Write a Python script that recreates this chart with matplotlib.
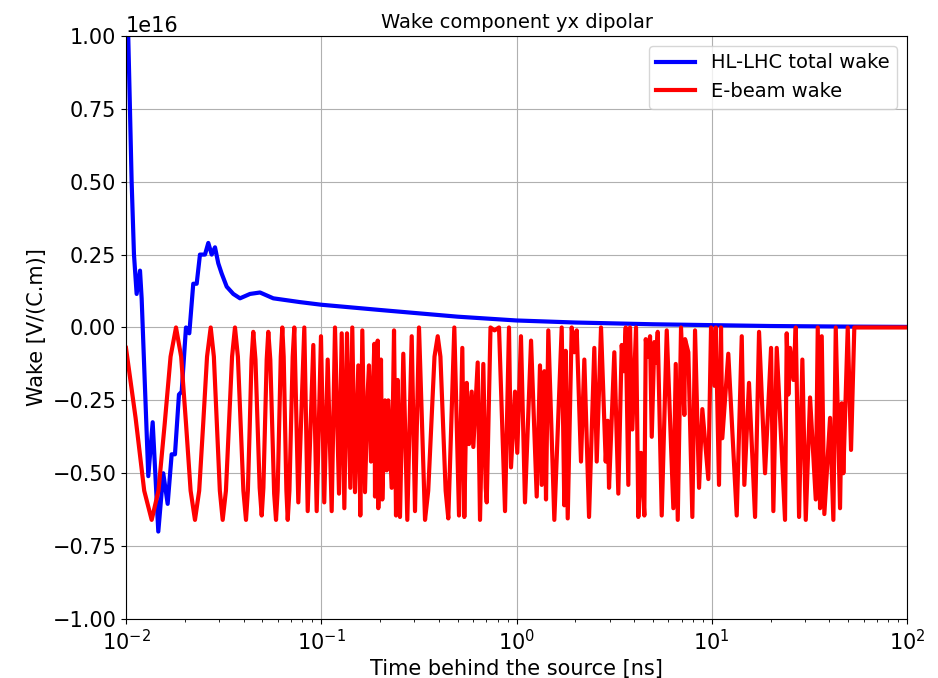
import numpy as np
import matplotlib.pyplot as plt

# HL-LHC total wake (time in ns, wake in 1e16 V/(C.m))
hl_time = [0.0100, 0.01027, 0.01048, 0.01069, 0.01099, 0.01134, 0.01180, 0.01203,
           0.01301, 0.01370, 0.01464, 0.01552, 0.01635, 0.01714, 0.01782, 0.01868,
           0.01929, 0.02029, 0.02110, 0.02211, 0.02302, 0.02393, 0.02539, 0.02640,
           0.02748, 0.02857, 0.02970, 0.03091, 0.03280, 0.03545, 0.03837, 0.04316,
           0.04857, 0.05680, 0.0778, 0.1, 0.2, 0.5, 1.0, 2.0, 5.0, 10.0, 20.0, 50.0, 100.0]
hl_wake = [1.30, 1.00, 0.75, 0.50, 0.25, 0.115, 0.195, 0.10,
           -0.51, -0.325, -0.70, -0.50, -0.605, -0.435, -0.435, -0.23,
           -0.22, 0.0, -0.02, 0.15, 0.15, 0.25, 0.25, 0.29,
           0.25, 0.275, 0.22, 0.185, 0.14, 0.115, 0.10, 0.115,
           0.12, 0.10, 0.087, 0.078, 0.060, 0.037, 0.024, 0.017, 0.011, 0.008, 0.005, 0.003, 0.002]

# E-beam wake (time in ns, wake in 1e16 V/(C.m))
# first part: smooth oscillation, read with a few points per half-cycle
eb_time_start = [0.0100, 0.0112, 0.0124, 0.01354, 0.01467, 0.01579, 0.01692, 0.01804,
                 0.01917, 0.02030, 0.02143, 0.02256, 0.02371, 0.02486, 0.02601, 0.02716,
                 0.02819, 0.02922, 0.03025, 0.03128, 0.03250, 0.03372, 0.03494, 0.03616,
                 0.03742, 0.03867, 0.03993, 0.04118, 0.04210, 0.04303, 0.04395, 0.04487,
                 0.04604, 0.04721, 0.04838, 0.04955, 0.05055, 0.05156, 0.05256, 0.05356,
                 0.05484, 0.05612, 0.05739, 0.05867, 0.05980, 0.06093, 0.06205, 0.06318,
                 0.06422, 0.06527, 0.06631, 0.06735, 0.06871, 0.07007, 0.07142, 0.07278]
eb_wake_start = [-0.07, -0.31, -0.56, -0.66, -0.56, -0.33, -0.10, 0.0,
                 -0.10, -0.33, -0.56, -0.66, -0.56, -0.33, -0.10, 0.0,
                 -0.10, -0.33, -0.56, -0.66, -0.56, -0.33, -0.10, 0.0,
                 -0.10, -0.33, -0.56, -0.66, -0.56, -0.34, -0.11, -0.015,
                 -0.11, -0.33, -0.55, -0.645, -0.55, -0.33, -0.11, -0.015,
                 -0.11, -0.34, -0.57, -0.66, -0.56, -0.33, -0.10, 0.0,
                 -0.10, -0.33, -0.56, -0.66, -0.56, -0.33, -0.10, 0.0]
# rest: sampled (aliased) oscillation up to ~54 ns, then zero
eb_time_rest = [0.0763,
           0.0819, 0.08524, 0.09107, 0.09478, 0.0997, 0.1036, 0.1079, 0.1131,
           0.1176, 0.1233, 0.1273, 0.1313, 0.1355, 0.1409, 0.1442, 0.1489,
           0.1548, 0.1585, 0.1623, 0.1675, 0.1730, 0.1756, 0.1798, 0.1870,
           0.1885, 0.1946, 0.1960, 0.2023, 0.2054, 0.2121, 0.2164, 0.2205,
           0.2295, 0.2359, 0.2415, 0.2464, 0.2531, 0.2632, 0.2759, 0.2906,
           0.3021, 0.3167, 0.3400, 0.3531, 0.3662, 0.3802, 0.3949, 0.4077,
           0.4204, 0.4336, 0.4474, 0.4803, 0.5076, 0.5278,
           0.5404, 0.5559, 0.5711, 0.5896, 0.6009, 0.6328, 0.6503, 0.6761,
           0.6956, 0.7038, 0.7359, 0.7715, 0.8136, 0.8733, 0.9152, 0.9371,
           0.9824, 1.009, 1.054, 1.105, 1.187, 1.269, 1.319, 1.346,
           1.388, 1.416, 1.455, 1.562, 1.704, 1.757, 1.786, 1.829,
           1.917, 1.977, 2.034, 2.139, 2.225, 2.352, 2.503, 2.575,
           2.709, 2.863, 2.932, 2.977, 3.169, 3.322, 3.458, 3.541,
           3.625, 3.738, 3.813, 3.918, 4.094, 4.206, 4.343, 4.515,
           4.590, 4.716, 4.829, 4.927, 5.079, 5.182, 5.287, 5.542,
           5.880, 6.356, 6.539, 6.694, 6.959, 7.236, 7.296, 7.585,
           7.952, 8.209, 8.606, 8.947, 9.601, 9.913, 10.31, 10.48,
           10.89, 11.15, 11.32, 12.15, 13.42, 14.24, 14.68, 15.51,
           16.66, 17.46, 18.74, 20.12, 20.67, 21.51, 23.72, 24.20,
           24.67, 25.17, 26.17, 26.92, 27.99, 29.10, 30.29, 31.86,
           34.08, 34.89, 35.85, 36.57, 37.71, 40.34, 41.94, 43.14,
           45.38, 46.30, 47.18, 49.69, 51.66, 53.70, 100.0]
eb_wake_rest = [-0.60,
           0.0, -0.63, -0.06, -0.63, -0.03, -0.60, -0.11, -0.63,
           0.0, -0.57, -0.02, -0.62, -0.02, -0.55, 0.0, -0.565,
           -0.13, -0.645, -0.01, -0.565, -0.22, -0.13, -0.46, -0.056,
           -0.58, -0.045, -0.62, -0.11, -0.59, -0.25, -0.49, -0.25,
           -0.55, -0.01, -0.645, -0.18, -0.65, -0.09, -0.66, -0.03,
           -0.63, 0.0, -0.66, -0.56, -0.33, -0.10, -0.03, -0.10,
           -0.33, -0.56, -0.655, 0.0, -0.645, -0.07,
           -0.65, -0.19, -0.40, -0.22, -0.41, -0.12, -0.66, -0.125,
           -0.55, -0.60, 0.0, -0.01, 0.0, -0.63, 0.0, -0.48,
           -0.22, -0.43, -0.03, -0.60, -0.045, -0.58, -0.13, -0.54,
           -0.15, -0.59, -0.01, -0.66, 0.0, -0.61, -0.08, -0.655,
           0.0, -0.085, -0.01, -0.46, -0.11, -0.65, -0.07, -0.46,
           0.0, -0.46, -0.32, -0.55, -0.085, -0.57, -0.06, -0.15,
           0.0, -0.54, 0.0, -0.35, 0.0, -0.65, -0.43, -0.645,
           -0.04, -0.10, -0.03, -0.375, -0.05, -0.12, -0.015, -0.645,
           -0.01, -0.62, -0.125, -0.66, 0.0, -0.30, -0.04, -0.085,
           -0.65, -0.01, -0.55, -0.28, -0.52, 0.0, -0.20, 0.0,
           -0.54, 0.0, -0.38, -0.09, -0.645, -0.03, -0.54, -0.19,
           -0.65, -0.015, -0.50, -0.07, -0.63, -0.07, -0.66, -0.02,
           -0.23, -0.07, -0.18, 0.0, -0.65, -0.11, -0.66, -0.24,
           -0.59, 0.0, -0.62, -0.03, -0.64, -0.31, -0.66, 0.0,
           -0.62, -0.26, -0.50, 0.0, -0.42, 0.0, 0.0]

scale = 1e16
eb_time = eb_time_start + eb_time_rest
eb_wake = eb_wake_start + eb_wake_rest

fig = plt.figure(figsize=(9.38, 6.78), dpi=100)
ax = fig.add_axes([0.1343, 0.087, 0.8327, 0.860])

ax.plot(hl_time, np.array(hl_wake) * scale, color='blue', lw=3, label='HL-LHC total wake')
ax.plot(eb_time, np.array(eb_wake) * scale, color='red', lw=3, label='E-beam wake')

ax.set_xscale('log')
ax.set_xlim(1e-2, 1e2)
ax.set_ylim(-1e16, 1e16)
ax.set_yticks(np.arange(-1.0, 1.01, 0.25) * scale)
ax.grid(True, which='major', color='#b0b0b0', lw=0.8)
ax.tick_params(axis='both', labelsize=15)
ax.yaxis.get_offset_text().set_fontsize(15)
ax.set_xlabel('Time behind the source [ns]', fontsize=15)
ax.set_ylabel('Wake [V/(C.m)]', fontsize=15)
ax.set_title('Wake component yx dipolar', fontsize=14)
ax.legend(loc='upper right', fontsize=14)

fig.savefig('out.png', dpi=100)
